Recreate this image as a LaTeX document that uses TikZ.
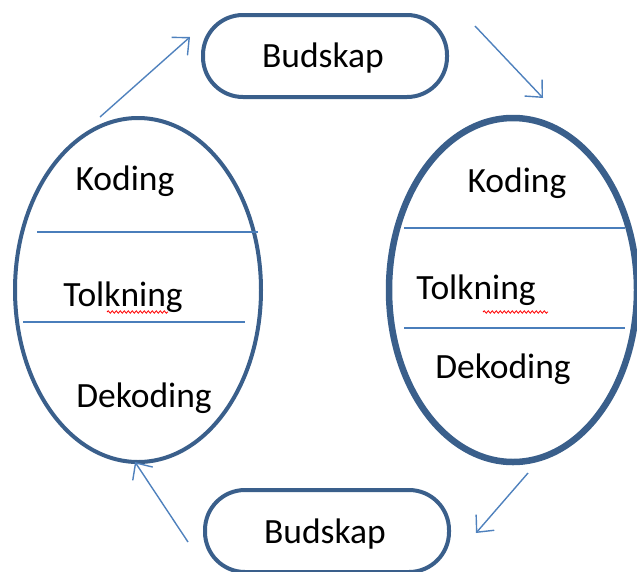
\documentclass[tikz,border=0pt]{standalone}
\usepackage{fontspec}
\setmainfont{Carlito}
\usetikzlibrary{shapes.geometric,arrows.meta,decorations.pathmorphing}
\definecolor{shapeblue}{HTML}{3A5F8B}
\definecolor{arrowblue}{HTML}{4F81BD}
\definecolor{lineblue}{HTML}{4A7EBB}
\tikzset{
  x=1pt, y=-1pt,
  cell/.style={draw=shapeblue, ellipse, inner sep=0pt},
  msgbox/.style={draw=shapeblue, line width=4pt, rounded corners=40pt, minimum width=244pt, minimum height=82pt, inner sep=0pt},
  lbl/.style={font=\fontsize{35.5}{42}\selectfont, inner sep=0pt},
  divider/.style={draw=lineblue, line width=1.3pt},
  flow/.style={draw=arrowblue, line width=1.4pt, -{Straight Barb[length=13pt,width=24pt,line width=1.4pt]}},
  spell/.style={draw=red, line width=0.8pt, decorate, decoration={snake, amplitude=1.2pt, segment length=4pt}}
}
\begin{document}
\begin{tikzpicture}
\useasboundingbox (0,0) rectangle (637,571);
% ellipses
\node[cell, line width=4pt, minimum width=246pt, minimum height=344pt] (L) at (138,290) {};
\node[cell, line width=6.5pt, minimum width=248pt, minimum height=344pt] (R) at (513,290) {};
% message boxes
\node[msgbox] (T) at (325,56) {};
\node[msgbox] (B) at (327,531) {};
\node[lbl] at (323,58) {Budskap};
\node[lbl] at (325,534) {Budskap};
% left ellipse content
\draw[divider] (37,232) -- (258,232);
\draw[divider] (23,322) -- (245,322);
\node[lbl] (LK) at (125,181) {Koding};
\node[lbl] (LT) at (123,297) {Tolkning};
\node[lbl] (LD) at (144,398) {Dekoding};
\draw[spell] (107,312) -- (168,312);
% right ellipse content
\draw[divider] (404,228) -- (625,228);
\draw[divider] (404,328) -- (625,328);
\node[lbl] (RK) at (517,183) {Koding};
\node[lbl] (RT) at (476,290) {Tolkning};
\node[lbl] (RD) at (503,369) {Dekoding};
\draw[spell] (483,312) -- (548,312);
% arrows
\coordinate (a1s) at (100,117); \coordinate (a1e) at (190,37);
\coordinate (a2s) at (475,26);  \coordinate (a2e) at (543,98);
\coordinate (a3s) at (528,473); \coordinate (a3e) at (476,533);
\coordinate (a4s) at (188,542); \coordinate (a4e) at (135,462);
\draw[flow] (a1s) -- (a1e);
\draw[flow] (a2s) -- (a2e);
\draw[flow] (a3s) -- (a3e);
\draw[flow] (a4s) -- (a4e);
\end{tikzpicture}
\end{document}
